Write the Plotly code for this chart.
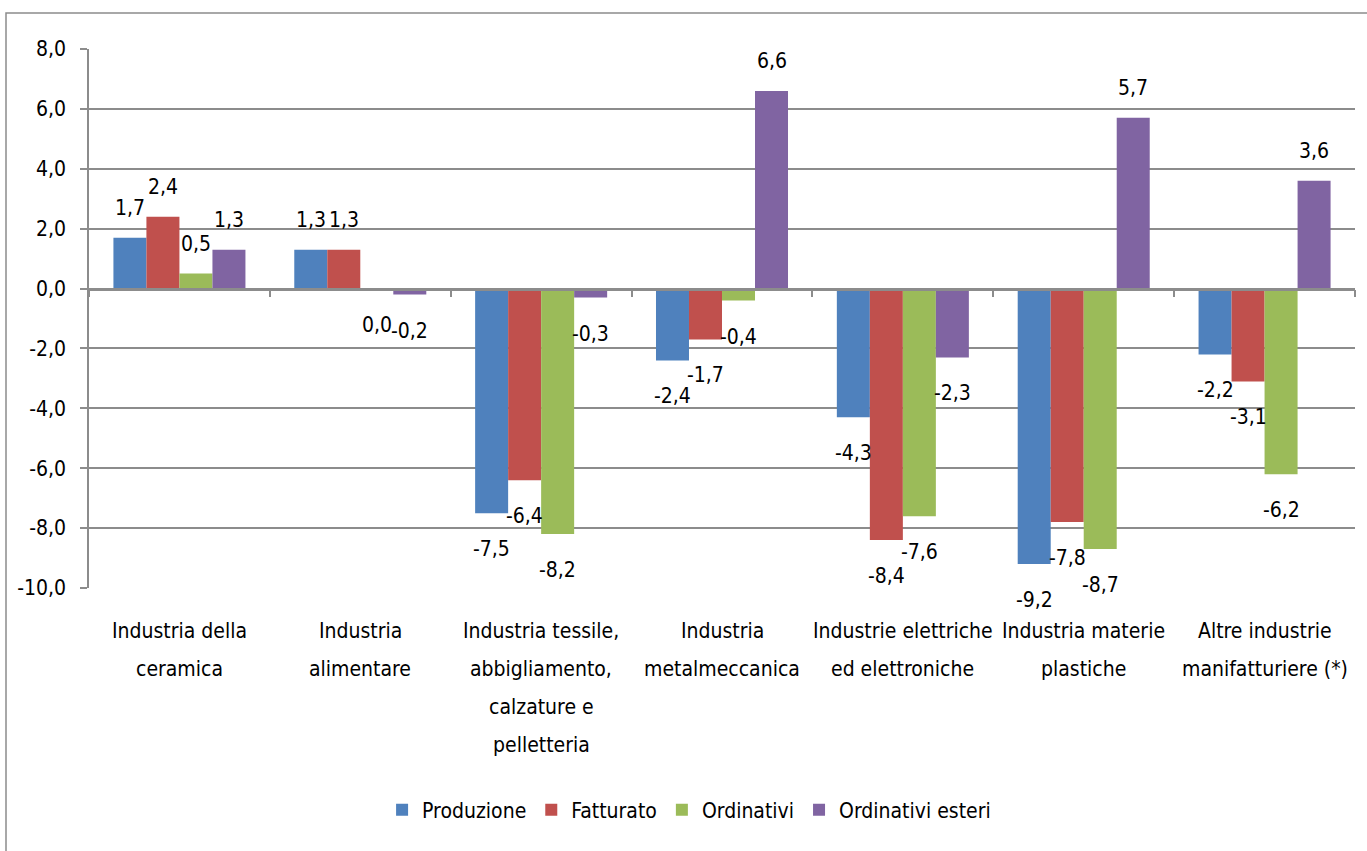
import plotly.graph_objects as go

categories = [
    "Industria della\nceramica",
    "Industria\nalimentare",
    "Industria tessile,\nabbigliamento,\ncalzature e\npelletteria",
    "Industria\nmetalmeccanica",
    "Industrie elettriche\ned elettroniche",
    "Industria materie\nplastiche",
    "Altre industrie\nmanifatturiere (*)",
]
series_names = ["Produzione", "Fatturato", "Ordinativi", "Ordinativi esteri"]
produzione = [1.7, 1.3, -7.5, -2.4, -4.3, -9.2, -2.2]
fatturato = [2.4, 1.3, -6.4, -1.7, -8.4, -7.8, -3.1]
ordinativi = [0.5, 0.0, -8.2, -0.4, -7.6, -8.7, -6.2]
ordinativi_esteri = [1.3, -0.2, -0.3, 6.6, -2.3, 5.7, 3.6]
y_ticks = [-10, -8, -6, -4, -2, 0, 2, 4, 6, 8]
y_tick_labels = [f"{t:.1f}".replace(".", ",") for t in y_ticks]

series_values = [produzione, fatturato, ordinativi, ordinativi_esteri]
colors = ["#4F81BD", "#C0504D", "#9BBB59", "#8064A2"]

FONT = "Liberation Sans Narrow, DejaVu Sans Condensed, Arial Narrow, sans-serif"
FS = 21
GRID = "#8c8c8c"

W, H = 1367, 851
ML, MR, MT, MB = 89, 12, 49, 263
plot_h = H - MT - MB

ymin, ymax = y_ticks[0], y_ticks[-1]
n_cat = len(categories)
n_ser = len(series_values)
bargap = 0.27
bar_w = (1 - bargap) / n_ser
x_idx = list(range(n_cat))

fig = go.Figure()
for name, vals, col in zip(series_names, series_values, colors):
    fig.add_trace(go.Bar(x=x_idx, y=vals, name=name, marker=dict(color=col, line=dict(width=0)),
                         hoverinfo="y"))

# invisible trace to carry the zero-crossing category axis
fig.add_trace(go.Scatter(x=x_idx, y=[0] * n_cat, xaxis="x2", yaxis="y", mode="markers",
                         marker=dict(opacity=0), showlegend=False, hoverinfo="skip"))

annotations = []
# value labels
for j, vals in enumerate(series_values):
    for i, v in enumerate(vals):
        annotations.append(dict(
            x=i + (j - (n_ser - 1) / 2) * bar_w, y=v, xref="x", yref="y",
            text=f"{v:.1f}".replace(".", ","), showarrow=False,
            xanchor="center", yanchor="middle",
            yshift=30 if v > 0 else -36,
            font=dict(family=FONT, size=FS, color="black"),
        ))
# category labels (one annotation per line for Excel-like line spacing)
for i, lab in enumerate(categories):
    for k, line in enumerate(lab.split("\n")):
        annotations.append(dict(
            x=i, y=0, xref="x", yref="paper", text=line, showarrow=False,
            xanchor="center", yanchor="middle", yshift=-(43 + 38 * k),
            font=dict(family=FONT, size=FS, color="black"),
        ))

boundaries = [b - 0.5 for b in range(n_cat + 1)]

fig.update_layout(
    width=W, height=H,
    margin=dict(l=ML, r=MR, t=MT, b=MB, pad=0),
    paper_bgcolor="white", plot_bgcolor="white",
    barmode="group", bargap=bargap, bargroupgap=0,
    separators=",.",
    font=dict(family=FONT, size=FS, color="black"),
    xaxis=dict(range=[-0.5, n_cat - 0.5], showticklabels=False, showgrid=False,
               zeroline=False, showline=False, ticks=""),
    xaxis2=dict(range=[-0.5, n_cat - 0.5], overlaying="x", anchor="free",
                position=(0 - ymin) / (ymax - ymin), side="bottom",
                tickvals=boundaries, ticktext=[""] * len(boundaries),
                ticks="outside", ticklen=7, tickcolor=GRID, tickwidth=1.5,
                showline=True, linecolor=GRID, linewidth=2.5,
                showgrid=False, zeroline=False, showticklabels=False),
    yaxis=dict(range=[ymin, ymax], tickvals=y_ticks, ticktext=y_tick_labels,
               showgrid=True, gridcolor=GRID, gridwidth=1.5,
               zeroline=False, showline=True, linecolor=GRID, linewidth=1.5,
               ticks="outside", ticklen=7, tickcolor=GRID, tickwidth=1.5,
               ticklabelstandoff=10,
               tickfont=dict(family=FONT, size=FS, color="black")),
    legend=dict(orientation="h", x=0.474, xanchor="center",
                y=(588 - 810) / plot_h, yanchor="middle",
                font=dict(family=FONT, size=FS, color="black"),
                itemwidth=30, bgcolor="rgba(0,0,0,0)"),
    annotations=annotations,
    showlegend=True,
)

# outer chart-area border (only left & top visible in the crop)
plot_w = W - ML - MR
fig.add_shape(type="rect", xref="paper", yref="paper",
              x0=(6 - ML) / plot_w, x1=(W + 20 - ML) / plot_w,
              y0=-(H + 20 - MT - plot_h) / plot_h, y1=(H - MB - 13) / plot_h,
              line=dict(color="#8c8c8c", width=1.5), fillcolor="rgba(0,0,0,0)", layer="below")

fig.write_html("out.html")
